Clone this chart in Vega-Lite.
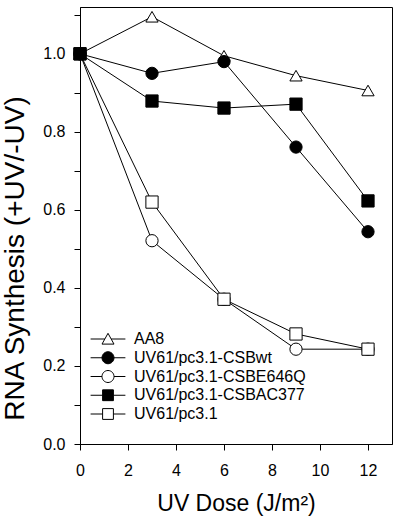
{
  "$schema": "https://vega.github.io/schema/vega-lite/v6.json",
  "width": 312,
  "height": 437,
  "autosize": {"type": "none"},
  "padding": {"left": 80, "top": 7, "right": 8, "bottom": 76},
  "config": {
    "font": "Liberation Sans",
    "view": {"stroke": "black", "strokeWidth": 1},
    "axis": {"grid": false, "domainColor": "black", "tickColor": "black", "labelColor": "black", "titleColor": "black", "labelFontSize": 16, "titleFontWeight": "normal", "labelFont": "Liberation Sans", "titleFont": "Liberation Sans"},
    "legend": {"labelFont": "Liberation Sans", "labelColor": "black"}
  },
  "data": {
    "values": [
      {"series": "AA8", "dose": 0, "value": 1.0},
      {"series": "AA8", "dose": 3, "value": 1.095},
      {"series": "AA8", "dose": 6, "value": 0.995},
      {"series": "AA8", "dose": 9, "value": 0.944},
      {"series": "AA8", "dose": 12, "value": 0.906},
      {"series": "UV61/pc3.1-CSBE646Q", "dose": 0, "value": 1.0},
      {"series": "UV61/pc3.1-CSBE646Q", "dose": 3, "value": 0.521},
      {"series": "UV61/pc3.1-CSBE646Q", "dose": 6, "value": 0.371},
      {"series": "UV61/pc3.1-CSBE646Q", "dose": 9, "value": 0.243},
      {"series": "UV61/pc3.1-CSBE646Q", "dose": 12, "value": 0.243},
      {"series": "UV61/pc3.1", "dose": 0, "value": 1.0},
      {"series": "UV61/pc3.1", "dose": 3, "value": 0.62},
      {"series": "UV61/pc3.1", "dose": 6, "value": 0.371},
      {"series": "UV61/pc3.1", "dose": 9, "value": 0.282},
      {"series": "UV61/pc3.1", "dose": 12, "value": 0.243},
      {"series": "UV61/pc3.1-CSBwt", "dose": 0, "value": 1.0},
      {"series": "UV61/pc3.1-CSBwt", "dose": 3, "value": 0.95},
      {"series": "UV61/pc3.1-CSBwt", "dose": 6, "value": 0.98},
      {"series": "UV61/pc3.1-CSBwt", "dose": 9, "value": 0.761},
      {"series": "UV61/pc3.1-CSBwt", "dose": 12, "value": 0.544},
      {"series": "UV61/pc3.1-CSBAC377", "dose": 0, "value": 1.0},
      {"series": "UV61/pc3.1-CSBAC377", "dose": 3, "value": 0.879},
      {"series": "UV61/pc3.1-CSBAC377", "dose": 6, "value": 0.861},
      {"series": "UV61/pc3.1-CSBAC377", "dose": 9, "value": 0.871},
      {"series": "UV61/pc3.1-CSBAC377", "dose": 12, "value": 0.623}
    ]
  },
  "encoding": {
    "x": {
      "field": "dose", "type": "quantitative",
      "scale": {"domain": [0, 13], "nice": false, "zero": false},
      "axis": {
        "title": "UV Dose (J/m²)", "titleFontSize": 23, "titleY": 66, "titleBaseline": "alphabetic",
        "values": [0, 2, 4, 6, 8, 10, 12], "tickSize": 6, "labelBaseline": "alphabetic", "labelPadding": 25,
        "labelFlush": false
      }
    },
    "y": {
      "field": "value", "type": "quantitative",
      "scale": {"domain": [0, 1.12], "nice": false},
      "axis": {
        "title": "RNA Synthesis (+UV/-UV)", "titleFontSize": 28, "titleX": -57, "titleY": 251, "titleBaseline": "alphabetic", "titleAngle": -90,
        "values": [0, 0.1, 0.2, 0.3, 0.4, 0.5, 0.6, 0.7, 0.8, 0.9, 1.0, 1.1],
        "labelExpr": "round(datum.value*10) % 2 == 0 ? format(datum.value, '.1f') : ''",
        "tickSize": 6, "labelPadding": 9, "labelFlush": false,
        "encode": {"ticks": {"update": {"x": {"value": 0}, "x2": {"signal": "round(datum.value*10) % 2 == 0 ? -6 : -3.5"}}}}
      }
    }
  },
  "layer": [
    {
      "mark": {"type": "line", "stroke": "black", "strokeWidth": 1},
      "encoding": {"detail": {"field": "series"}}
    },
    {
      "mark": {"type": "point", "filled": true, "stroke": "black", "strokeWidth": 1, "size": 150, "opacity": 1},
      "encoding": {
        "shape": {"field": "series", "type": "nominal",
          "scale": {"domain": ["AA8", "UV61/pc3.1-CSBwt", "UV61/pc3.1-CSBE646Q", "UV61/pc3.1-CSBAC377", "UV61/pc3.1"],
                    "range": ["triangle-up", "circle", "circle", "square", "square"]},
          "legend": null},
        "fill": {"field": "series", "type": "nominal",
          "scale": {"domain": ["AA8", "UV61/pc3.1-CSBwt", "UV61/pc3.1-CSBE646Q", "UV61/pc3.1-CSBAC377", "UV61/pc3.1"],
                    "range": ["white", "black", "white", "black", "white"]},
          "legend": null}
      }
    },
    {
      "mark": {"type": "point", "filled": true, "stroke": "black", "strokeWidth": 1, "size": 144, "opacity": 0},
      "encoding": {
        "shape": {"field": "series", "type": "nominal",
          "scale": {"domain": ["AA8", "UV61/pc3.1-CSBwt", "UV61/pc3.1-CSBE646Q", "UV61/pc3.1-CSBAC377", "UV61/pc3.1"],
                    "range": [
                      "M-2.9,0H-0.53M0.53,0H2.9M0,-0.95L1,0.85H-1Z",
                      "M-2.9,0H-1M1,0H2.9M-1,0A1,1 0 1,0 1,0A1,1 0 1,0 -1,0Z",
                      "M-2.9,0H-1M1,0H2.9M-1,0A1,1 0 1,0 1,0A1,1 0 1,0 -1,0Z",
                      "M-2.9,0H-0.9M0.9,0H2.9M-0.9,-0.9H0.9V0.9H-0.9Z",
                      "M-2.9,0H-0.9M0.9,0H2.9M-0.9,-0.9H0.9V0.9H-0.9Z"
                    ]},
          "legend": {"title": null, "orient": "none", "legendX": 20, "legendY": 324, "padding": 0,
            "symbolSize": 144, "symbolStrokeColor": "black", "symbolStrokeWidth": 1,
            "labelFontSize": 16, "labelOffset": 18, "rowPadding": 2.75, "labelLimit": 0,
            "encode": {"symbols": {"update": {"opacity": {"value": 1}}}}}},
        "fill": {"field": "series", "type": "nominal",
          "scale": {"domain": ["AA8", "UV61/pc3.1-CSBwt", "UV61/pc3.1-CSBE646Q", "UV61/pc3.1-CSBAC377", "UV61/pc3.1"],
                    "range": ["white", "black", "white", "black", "white"]},
          "legend": {"title": null, "orient": "none", "legendX": 20, "legendY": 324, "padding": 0,
            "symbolSize": 144, "symbolStrokeColor": "black", "symbolStrokeWidth": 1,
            "labelFontSize": 16, "labelOffset": 18, "rowPadding": 2.75, "labelLimit": 0,
            "encode": {"symbols": {"update": {"opacity": {"value": 1}}}}}}
      }
    }
  ],
  "resolve": {"scale": {"shape": "independent", "fill": "independent"}}
}
